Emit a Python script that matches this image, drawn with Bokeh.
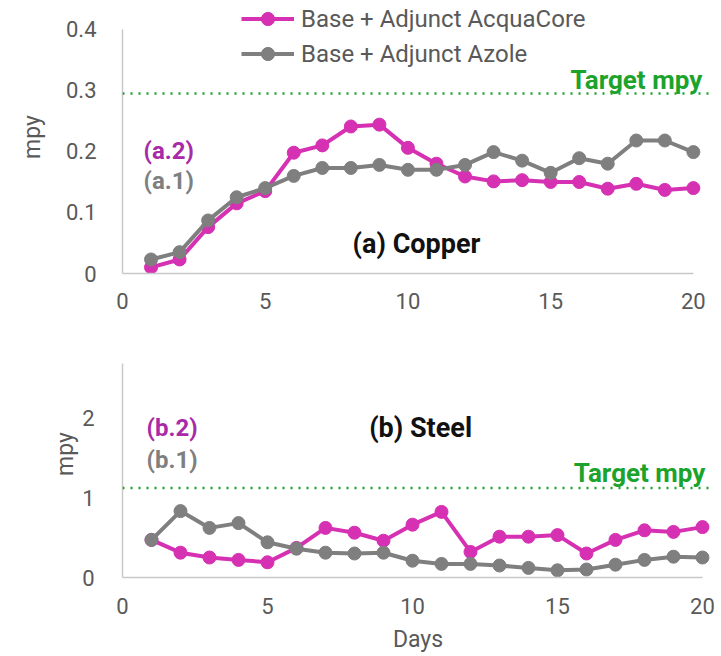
from bokeh.plotting import figure
from bokeh.layouts import column
from bokeh.models import Legend, LegendItem, Label, Span, FixedTicker, Range1d, Title
from bokeh.embed import file_html
from bokeh.resources import INLINE

# ---- data ----
days = list(range(1, 21))
copper_acquacore = [0.010, 0.023, 0.076, 0.115, 0.135, 0.198, 0.210, 0.241, 0.244, 0.206,
                    0.180, 0.159, 0.151, 0.153, 0.150, 0.150, 0.139, 0.147, 0.137, 0.140]
copper_azole = [0.023, 0.035, 0.087, 0.125, 0.140, 0.160, 0.173, 0.173, 0.178, 0.170,
                0.170, 0.178, 0.199, 0.185, 0.165, 0.189, 0.180, 0.218, 0.218, 0.199]
steel_acquacore = [0.47, 0.31, 0.25, 0.22, 0.19, 0.37, 0.62, 0.56, 0.46, 0.66,
                   0.82, 0.32, 0.51, 0.51, 0.53, 0.30, 0.47, 0.59, 0.57, 0.63]
steel_azole = [0.47, 0.83, 0.62, 0.68, 0.44, 0.36, 0.31, 0.30, 0.31, 0.21,
               0.17, 0.17, 0.15, 0.12, 0.09, 0.10, 0.16, 0.22, 0.26, 0.25]
copper_target = 0.295
steel_target = 1.12
x_ticks = [0, 5, 10, 15, 20]
copper_y_ticks = [0, 0.1, 0.2, 0.3, 0.4]
steel_y_ticks = [0, 1, 2]
series_names = ["Base + Adjunct AcquaCore", "Base + Adjunct Azole"]

PINK = "#D630B3"
GRAY = "#7F7F7F"
LABEL_PURPLE = "#A82AA8"
GREEN = "#1BA32B"
TICK = "#595959"
AXIS = "#C8C8C8"
FONT = "Roboto"


def style(p, x_standoff, y_standoff):
    p.grid.grid_line_color = None
    p.outline_line_color = None
    p.background_fill_color = None
    p.border_fill_color = None
    for ax in (p.xaxis[0], p.yaxis[0]):
        ax.axis_line_color = AXIS
        ax.axis_line_width = 1.5
        ax.major_tick_line_color = None
        ax.minor_tick_line_color = None
        ax.major_label_text_font = FONT
        ax.major_label_text_font_size = "22px"
        ax.major_label_text_color = TICK
        ax.axis_label_text_font = FONT
        ax.axis_label_text_font_size = "23px"
        ax.axis_label_text_color = TICK
        ax.axis_label_text_font_style = "normal"
    p.xaxis[0].major_label_standoff = x_standoff
    p.yaxis[0].major_label_standoff = y_standoff
    p.xaxis[0].ticker = FixedTicker(ticks=x_ticks)
    p.xaxis[0].bounds = (0, 20)


# ---------------- (a) Copper ----------------
p1 = figure(frame_width=588, frame_height=273, min_border_left=122, min_border_right=11,
            min_border_top=0, min_border_bottom=57,
            x_range=Range1d(0, 20.6), y_range=Range1d(0, 0.4475),
            output_backend="svg", toolbar_location=None)
style(p1, 13, 20)
p1.yaxis[0].ticker = FixedTicker(ticks=copper_y_ticks)
p1.yaxis[0].bounds = (0, 0.4)
p1.yaxis[0].major_label_overrides = {0: "0", 0.1: "0.1", 0.2: "0.2", 0.3: "0.3", 0.4: "0.4"}
# y-axis title placed as a side title so it can sit centred on the 0-0.4 axis line
p1.add_layout(Title(text="mpy", align="center", offset=-14, standoff=33,
                    text_font=FONT, text_font_size="23px", text_font_style="normal",
                    text_color=TICK), "left")

p1.add_layout(Span(location=copper_target, dimension="width", line_color=GREEN,
                   line_width=2.5, line_dash="2 6"))

l1 = p1.line(days, copper_acquacore, line_color=PINK, line_width=4)
c1 = p1.scatter(days, copper_acquacore, marker="circle", size=13, fill_color=PINK, line_color=PINK)
l2 = p1.line(days, copper_azole, line_color=GRAY, line_width=4)
c2 = p1.scatter(days, copper_azole, marker="circle", size=13, fill_color=GRAY, line_color=GRAY)

legend = Legend(items=[LegendItem(label=series_names[0], renderers=[l1, c1]),
                       LegendItem(label=series_names[1], renderers=[l2, c2])],
                location=(119, 203), orientation="vertical",
                padding=0, margin=0, spacing=2, glyph_width=53, glyph_height=33,
                label_height=33, label_standoff=7,
                label_text_font=FONT, label_text_font_size="24px", label_text_color=TICK,
                border_line_color=None, background_fill_alpha=0)
p1.add_layout(legend, "center")

p1.add_layout(Label(x=0.74, y=0.2016, text="(a.2)", text_font=FONT, text_font_size="24px",
                    text_font_style="bold", text_color=LABEL_PURPLE, text_baseline="middle"))
p1.add_layout(Label(x=0.74, y=0.151, text="(a.1)", text_font=FONT, text_font_size="24px",
                    text_font_style="bold", text_color=GRAY, text_baseline="middle"))
p1.add_layout(Label(x=10.3, y=0.049, text="(a) Copper", text_font=FONT, text_font_size="27px",
                    text_font_style="bold", text_color="#111111", text_baseline="middle",
                    text_align="center"))
p1.add_layout(Label(x=20.31, y=0.318, text="Target mpy", text_font=FONT, text_font_size="26px",
                    text_font_style="bold", text_color=GREEN, text_baseline="middle",
                    text_align="right"))

# ---------------- (b) Steel ----------------
p2 = figure(frame_width=591, frame_height=247, min_border_left=119, min_border_right=11,
            min_border_top=0, min_border_bottom=79,
            x_range=Range1d(0, 20.38), y_range=Range1d(0, 3.0875),
            output_backend="svg", toolbar_location=None)
style(p2, 14, 22)
p2.yaxis[0].ticker = FixedTicker(ticks=steel_y_ticks)
p2.yaxis[0].bounds = (0, 2.675)
p2.yaxis[0].axis_label = "mpy"
p2.yaxis[0].axis_label_standoff = 0
p2.xaxis[0].axis_label = "Days"
p2.xaxis[0].axis_label_standoff = 9

p2.add_layout(Span(location=steel_target, dimension="width", line_color=GREEN,
                   line_width=2.5, line_dash="2 6"))

p2.line(days, steel_acquacore, line_color=PINK, line_width=4)
p2.scatter(days, steel_acquacore, marker="circle", size=13, fill_color=PINK, line_color=PINK)
p2.line(days, steel_azole, line_color=GRAY, line_width=4)
p2.scatter(days, steel_azole, marker="circle", size=13, fill_color=GRAY, line_color=GRAY)

p2.add_layout(Label(x=0.83, y=1.875, text="(b.2)", text_font=FONT, text_font_size="24px",
                    text_font_style="bold", text_color=LABEL_PURPLE, text_baseline="middle"))
p2.add_layout(Label(x=0.83, y=1.475, text="(b.1)", text_font=FONT, text_font_size="24px",
                    text_font_style="bold", text_color=GRAY, text_baseline="middle"))
p2.add_layout(Label(x=10.28, y=1.875, text="(b) Steel", text_font=FONT, text_font_size="27px",
                    text_font_style="bold", text_color="#111111", text_baseline="middle",
                    text_align="center"))
p2.add_layout(Label(x=20.1, y=1.31, text="Target mpy", text_font=FONT, text_font_size="26px",
                    text_font_style="bold", text_color=GREEN, text_baseline="middle",
                    text_align="right"))

layout = column(p1, p2, spacing=0)
open("out.html", "w").write(file_html(layout, INLINE))
